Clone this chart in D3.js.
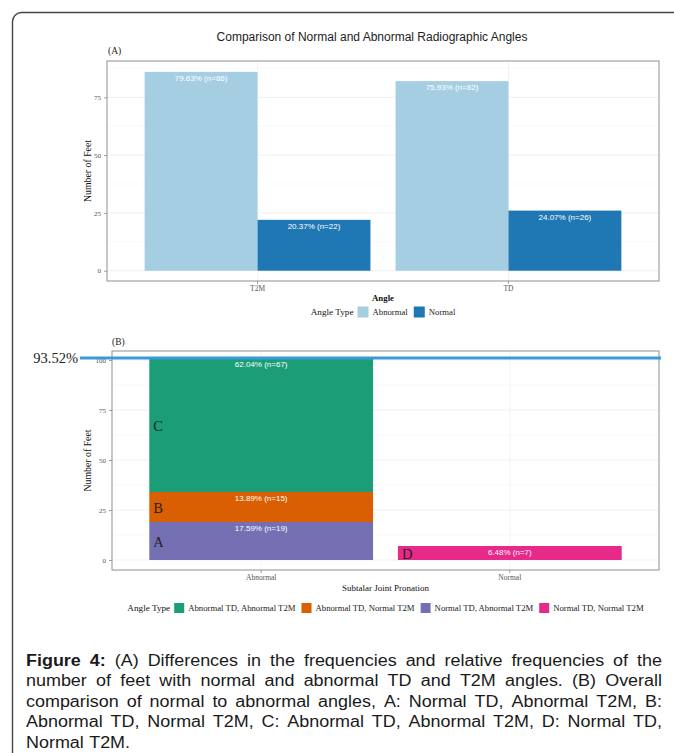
<!DOCTYPE html>
<html>
<head>
<meta charset="utf-8">
<script src="https://cdn.jsdelivr.net/npm/d3@7"></script>
<style>
  html, body { margin: 0; padding: 0; background: #fff; }
  svg { display: block; }
</style>
</head>
<body>
<svg id="chart" width="674" height="753"></svg>
<script>
// ---------------- DATA ----------------
const chartTitle = "Comparison of Normal and Abnormal Radiographic Angles";
const totalFeet = 108;

// Panel A
const angles = ["T2M", "TD"];
const angleTypes = ["Abnormal", "Normal"];
const abnormalCounts = [86, 82];
const normalCounts = [22, 26];
const yTicksA = [0, 25, 50, 75];

// Panel B
const pronation = ["Abnormal", "Normal"];
const comboTypes = ["Abnormal TD, Abnormal T2M", "Abnormal TD, Normal T2M", "Normal TD, Abnormal T2M", "Normal TD, Normal T2M"];
const comboLetters = ["C", "B", "A", "D"];
const comboCountsAbnormal = [67, 15, 19, 0];
const comboCountsNormal = [0, 0, 0, 7];
const yTicksB = [0, 25, 50, 75, 100];
const highlightLabel = "93.52%";

const captionLines = [
  "Figure 4: (A) Differences in the frequencies and relative frequencies of the",
  "number of feet with normal and abnormal TD and T2M angles. (B) Overall",
  "comparison of normal to abnormal angles, A: Normal TD, Abnormal T2M, B:",
  "Abnormal TD, Normal T2M, C: Abnormal TD, Abnormal T2M, D: Normal TD,",
  "Normal T2M."
];

// ---------------- STYLE ----------------
const colorsA = ["#a6cee3", "#1f78b4"];
const colorsB = ["#1b9e77", "#d95f02", "#7570b3", "#e7298a"];
const serif = "'Liberation Serif', 'Times New Roman', serif";
const sans = "'Liberation Sans', Arial, sans-serif";

const svg = d3.select("#chart");

// outer frame
svg.append("rect").attr("x", 12.5).attr("y", 12.5).attr("width", 720).attr("height", 800)
  .attr("rx", 9).attr("fill", "none").attr("stroke", "#444").attr("stroke-width", 1.4);

// title
svg.append("text").attr("x", 372).attr("y", 41).attr("text-anchor", "middle")
  .attr("font-family", sans).attr("font-size", 12).attr("fill", "#222").text(chartTitle);

const fmt = n => (n / totalFeet * 100).toFixed(2) + "% (n=" + n + ")";

function drawGrid(g, P, y, ticks) {
  const minor = [];
  for (let i = 0; i < ticks.length; i++) {
    const step = ticks[1] - ticks[0];
    const v = ticks[i] + step / 2;
    if (y(v) > P.t) minor.push(v);
  }
  g.selectAll(null).data(minor).join("line")
    .attr("x1", P.l).attr("x2", P.r).attr("y1", d => y(d)).attr("y2", d => y(d))
    .attr("stroke", "#f5f5f5").attr("stroke-width", 0.6);
  g.selectAll(null).data(ticks).join("line")
    .attr("x1", P.l).attr("x2", P.r).attr("y1", d => y(d)).attr("y2", d => y(d))
    .attr("stroke", "#ececec").attr("stroke-width", 0.8);
}

function styleAxis(ax, size) {
  ax.select(".domain").remove();
  ax.selectAll(".tick line").attr("stroke", "#888").attr("stroke-width", 0.8);
  ax.selectAll(".tick text").attr("font-family", serif).attr("font-size", size).attr("fill", "#555");
}

function legend(g, cx, cy, title, items, colors, sw) {
  const grp = g.append("g");
  let x = 0;
  const t = grp.append("text").attr("x", x).attr("y", cy).attr("dominant-baseline", "central")
    .attr("font-family", serif).attr("font-size", 9.2).attr("fill", "#111").text(title);
  x += t.node().getComputedTextLength() + 4;
  items.forEach((it, i) => {
    grp.append("rect").attr("x", x).attr("y", cy - sw / 2).attr("width", sw).attr("height", sw).attr("fill", colors[i]);
    x += sw + 4;
    const tt = grp.append("text").attr("x", x).attr("y", cy).attr("dominant-baseline", "central")
      .attr("font-family", serif).attr("font-size", 8.7).attr("fill", "#222").text(it);
    x += tt.node().getComputedTextLength() + 6;
  });
  x -= 6;
  grp.attr("transform", `translate(${cx - x / 2},0)`);
}

// ================= PANEL A =================
const PA = { l: 107, r: 659, t: 61, b: 281 };
const gA = svg.append("g");
const xA = d3.scaleBand().domain(angles).range([PA.l, PA.r]).paddingInner(0.1).paddingOuter(0.15);
const x1A = d3.scaleBand().domain(angleTypes).range([0, xA.bandwidth()]);
const yA = d3.scaleLinear().domain([-4.45, 90.7]).range([PA.b, PA.t]);

gA.append("rect").attr("x", PA.l).attr("y", PA.t).attr("width", PA.r - PA.l).attr("height", PA.b - PA.t).attr("fill", "#fff");
drawGrid(gA, PA, yA, yTicksA);
gA.selectAll(null).data(angles).join("line")
  .attr("x1", d => xA(d) + xA.bandwidth() / 2).attr("x2", d => xA(d) + xA.bandwidth() / 2)
  .attr("y1", PA.t).attr("y2", PA.b).attr("stroke", "#f0f0f0").attr("stroke-width", 0.8);

const rowsA = angles.map((a, i) => ({ angle: a, values: [abnormalCounts[i], normalCounts[i]] }));
rowsA.forEach(row => {
  angleTypes.forEach((t, j) => {
    const v = row.values[j];
    const x0 = xA(row.angle) + x1A(t);
    gA.append("rect").attr("x", x0).attr("y", yA(v)).attr("width", x1A.bandwidth())
      .attr("height", yA(0) - yA(v)).attr("fill", colorsA[j]);
    gA.append("text").attr("x", x0 + x1A.bandwidth() / 2).attr("y", yA(v) + 9)
      .attr("text-anchor", "middle").attr("font-family", sans).attr("font-size", 8)
      .attr("fill", "#fff").text(fmt(v));
  });
});

gA.append("rect").attr("x", PA.l).attr("y", PA.t).attr("width", PA.r - PA.l).attr("height", PA.b - PA.t)
  .attr("fill", "none").attr("stroke", "#999").attr("stroke-width", 1.1);

styleAxis(gA.append("g").attr("transform", `translate(${PA.l},0)`)
  .call(d3.axisLeft(yA).tickValues(yTicksA).tickSize(3).tickPadding(3)), 7);
styleAxis(gA.append("g").attr("transform", `translate(0,${PA.b})`)
  .call(d3.axisBottom(xA).tickSize(3).tickPadding(2)), 7.5);

gA.append("text").attr("x", 108).attr("y", 54).attr("font-family", serif).attr("font-size", 9.5).attr("fill", "#222").text("(A)");
gA.append("text").attr("transform", `translate(91,${(PA.t + PA.b) / 2}) rotate(-90)`).attr("text-anchor", "middle")
  .attr("font-family", serif).attr("font-size", 9.8).attr("fill", "#111").text("Number of Feet");
gA.append("text").attr("x", (PA.l + PA.r) / 2).attr("y", 301).attr("text-anchor", "middle")
  .attr("font-family", serif).attr("font-size", 8.8).attr("font-weight", "bold").attr("fill", "#111").text("Angle");
legend(gA, (PA.l + PA.r) / 2, 312, "Angle Type", angleTypes, colorsA, 11);

// ================= PANEL B =================
const PB = { l: 112, r: 659, t: 351, b: 570 };
const gB = svg.append("g");
const xB = d3.scaleBand().domain(pronation).range([PB.l, PB.r]).paddingInner(0.1).paddingOuter(0.15);
const yB = d3.scaleLinear().domain([-5, 104.5]).range([PB.b, PB.t]);

gB.append("rect").attr("x", PB.l).attr("y", PB.t).attr("width", PB.r - PB.l).attr("height", PB.b - PB.t).attr("fill", "#fff");
drawGrid(gB, PB, yB, yTicksB);
gB.selectAll(null).data(pronation).join("line")
  .attr("x1", d => xB(d) + xB.bandwidth() / 2).attr("x2", d => xB(d) + xB.bandwidth() / 2)
  .attr("y1", PB.t).attr("y2", PB.b).attr("stroke", "#f0f0f0").attr("stroke-width", 0.8);

const rowsB = pronation.map((p, i) => {
  const o = { cat: p };
  comboTypes.forEach((t, j) => { o[t] = (i === 0 ? comboCountsAbnormal : comboCountsNormal)[j]; });
  return o;
});
const stackKeys = comboTypes.slice().reverse();
const series = d3.stack().keys(stackKeys)(rowsB);
series.forEach(s => {
  const j = comboTypes.indexOf(s.key);
  s.forEach(d => {
    const v = d[1] - d[0];
    if (v <= 0) return;
    const x0 = xB(d.data.cat);
    gB.append("rect").attr("x", x0).attr("y", yB(d[1])).attr("width", xB.bandwidth())
      .attr("height", yB(d[0]) - yB(d[1])).attr("fill", colorsB[j]);
    gB.append("text").attr("x", x0 + xB.bandwidth() / 2).attr("y", yB(d[1]) + 9)
      .attr("text-anchor", "middle").attr("font-family", sans).attr("font-size", 8)
      .attr("fill", "#fff").text(fmt(v));
    gB.append("text").attr("x", x0 + 4).attr("y", (yB(d[0]) + yB(d[1])) / 2 + 1)
      .attr("dominant-baseline", "central").attr("font-family", serif).attr("font-size", 14.5)
      .attr("fill", "#222").text(comboLetters[j]);
  });
});

gB.append("rect").attr("x", PB.l).attr("y", PB.t).attr("width", PB.r - PB.l).attr("height", PB.b - PB.t)
  .attr("fill", "none").attr("stroke", "#999").attr("stroke-width", 1.1);

styleAxis(gB.append("g").attr("transform", `translate(${PB.l},0)`)
  .call(d3.axisLeft(yB).tickValues(yTicksB).tickSize(3).tickPadding(3)), 7);
styleAxis(gB.append("g").attr("transform", `translate(0,${PB.b})`)
  .call(d3.axisBottom(xB).tickSize(3).tickPadding(2)), 7.5);

// highlight line at total abnormal share
const abnormalTotal = d3.sum(comboCountsAbnormal);
gB.append("line").attr("x1", 80).attr("x2", PB.r + 2).attr("y1", yB(abnormalTotal)).attr("y2", yB(abnormalTotal))
  .attr("stroke", "#3a9bd8").attr("stroke-width", 3);
gB.append("text").attr("x", 78).attr("y", yB(abnormalTotal)).attr("text-anchor", "end")
  .attr("dominant-baseline", "central").attr("font-family", serif).attr("font-size", 14.5)
  .attr("fill", "#222").text(highlightLabel);

gB.append("text").attr("x", 112).attr("y", 345).attr("font-family", serif).attr("font-size", 9.5).attr("fill", "#222").text("(B)");
gB.append("text").attr("transform", `translate(91,${(PB.t + PB.b) / 2}) rotate(-90)`).attr("text-anchor", "middle")
  .attr("font-family", serif).attr("font-size", 9.8).attr("fill", "#111").text("Number of Feet");
gB.append("text").attr("x", (PB.l + PB.r) / 2).attr("y", 591).attr("text-anchor", "middle")
  .attr("font-family", serif).attr("font-size", 9).attr("fill", "#111").text("Subtalar Joint Pronation");
legend(gB, (PB.l + PB.r) / 2, 608, "Angle Type", comboTypes, colorsB, 10);

// ================= CAPTION =================
const capL = 26, capR = 662, capSize = 16, capGap = 9;
const capGroups = captionLines.map((line, li) => {
  const yb = 665.5 + li * 20.5;
  const words = line.split(" ");
  const g = svg.append("g");
  const nodes = words.map((w, wi) => {
    const bold = li === 0 && wi < 2;
    return g.append("text").attr("y", yb).attr("font-family", sans).attr("font-size", capSize)
      .attr("font-weight", bold ? "bold" : "normal").attr("fill", "#1a1a1a").text(w);
  });
  const widths = nodes.map(n => n.node().getComputedTextLength());
  return { nodes, widths };
});
// horizontal glyph scale derived from the first (justified) line
const first = capGroups[0];
const hscale = (capR - capL - capGap * (first.nodes.length - 1)) / d3.sum(first.widths);
capGroups.forEach((cg, li) => {
  const w = cg.widths.map(v => v * hscale);
  const justify = li < capGroups.length - 1;
  const gap = justify ? (capR - capL - d3.sum(w)) / (w.length - 1) : capSize * 0.3 * hscale;
  let x = capL;
  cg.nodes.forEach((n, i) => {
    n.attr("x", x).attr("textLength", w[i]).attr("lengthAdjust", "spacingAndGlyphs");
    x += w[i] + gap;
  });
});
</script>
</body>
</html>
